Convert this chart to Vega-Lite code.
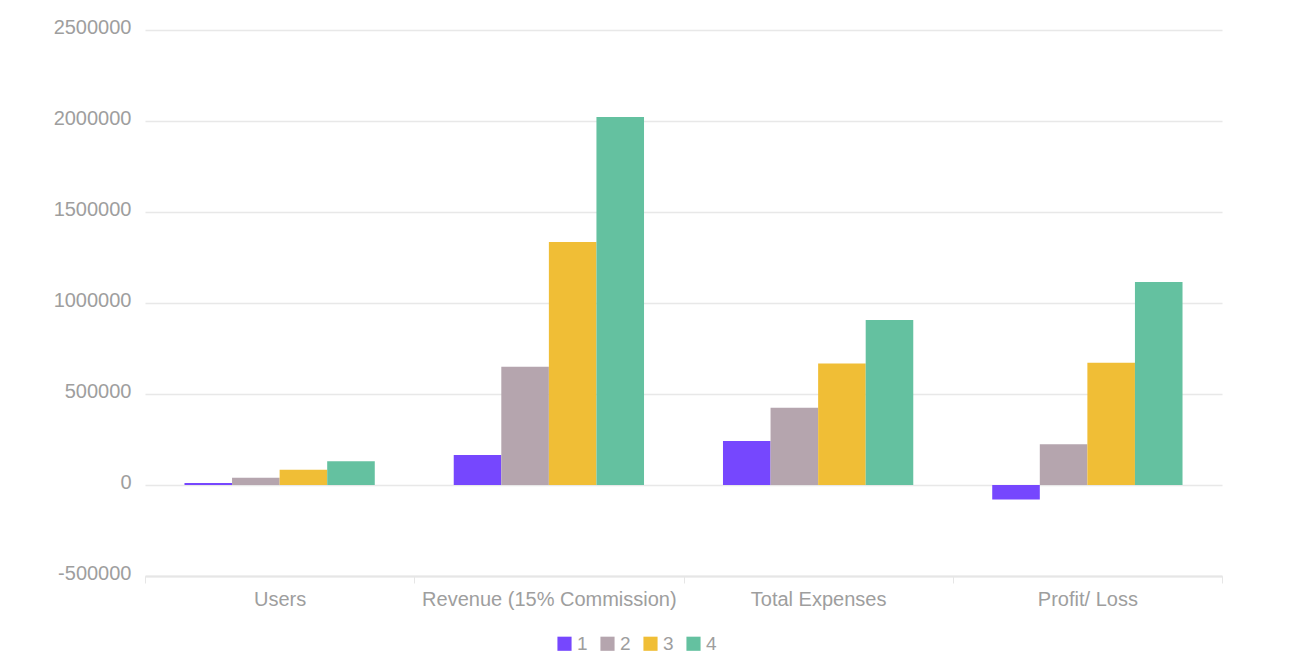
{
  "$schema": "https://vega.github.io/schema/vega-lite/v6.json",
  "width": 1077,
  "height": 546,
  "autosize": {"type": "none"},
  "padding": {"left": 145, "top": 30, "right": 67, "bottom": 85},
  "background": "white",
  "config": {
    "view": {"stroke": null},
    "font": "Liberation Sans"
  },
  "data": {
    "values": [
      {"category": "Users", "series": "1", "value": 11000},
      {"category": "Users", "series": "2", "value": 40000},
      {"category": "Users", "series": "3", "value": 84000},
      {"category": "Users", "series": "4", "value": 130000},
      {"category": "Revenue (15% Commission)", "series": "1", "value": 165000},
      {"category": "Revenue (15% Commission)", "series": "2", "value": 650000},
      {"category": "Revenue (15% Commission)", "series": "3", "value": 1335000},
      {"category": "Revenue (15% Commission)", "series": "4", "value": 2022000},
      {"category": "Total Expenses", "series": "1", "value": 242000},
      {"category": "Total Expenses", "series": "2", "value": 425000},
      {"category": "Total Expenses", "series": "3", "value": 667000},
      {"category": "Total Expenses", "series": "4", "value": 907000},
      {"category": "Profit/ Loss", "series": "1", "value": -80000},
      {"category": "Profit/ Loss", "series": "2", "value": 224000},
      {"category": "Profit/ Loss", "series": "3", "value": 672000},
      {"category": "Profit/ Loss", "series": "4", "value": 1115000}
    ]
  },
  "mark": {"type": "bar"},
  "encoding": {
    "x": {
      "field": "category",
      "type": "nominal",
      "sort": ["Users", "Revenue (15% Commission)", "Total Expenses", "Profit/ Loss"],
      "scale": {"paddingInner": 0, "paddingOuter": 0},
      "axis": {
        "title": null,
        "labelAngle": 0,
        "labelLimit": 0,
        "tickBand": "extent",
        "domainColor": "#e6e6e6",
        "domainWidth": 2,
        "tickColor": "#e6e6e6",
        "tickSize": 7,
        "labelColor": "#9e9e9e",
        "labelFontSize": 20,
        "labelPadding": 6,
        "grid": false
      }
    },
    "xOffset": {
      "field": "series",
      "type": "nominal",
      "scale": {"paddingInner": 0, "paddingOuter": 0.83}
    },
    "y": {
      "field": "value",
      "type": "quantitative",
      "scale": {"domain": [-500000, 2500000], "nice": false, "zero": true},
      "axis": {
        "title": null,
        "values": [-500000, 0, 500000, 1000000, 1500000, 2000000, 2500000],
        "labelExpr": "datum.value < 0 ? '-' + format(-datum.value, 'd') : format(datum.value, 'd')",
        "domain": false,
        "ticks": false,
        "gridColor": "#e8e8e8",
        "gridWidth": 1.5,
        "labelColor": "#9e9e9e",
        "labelFontSize": 20,
        "labelPadding": 14,
        "labelOffset": -3
      }
    },
    "color": {
      "field": "series",
      "type": "nominal",
      "scale": {"domain": ["1", "2", "3", "4"], "range": ["#7647fe", "#b5a5ae", "#f0be36", "#64c1a0"]},
      "legend": {
        "title": null,
        "orient": "none",
        "legendX": 410,
        "legendY": 604,
        "direction": "horizontal",
        "symbolType": "square",
        "symbolSize": 200,
        "symbolStrokeWidth": 0,
        "labelColor": "#9e9e9e",
        "labelFontSize": 19,
        "labelOffset": 3,
        "columnPadding": 10
      }
    }
  }
}
